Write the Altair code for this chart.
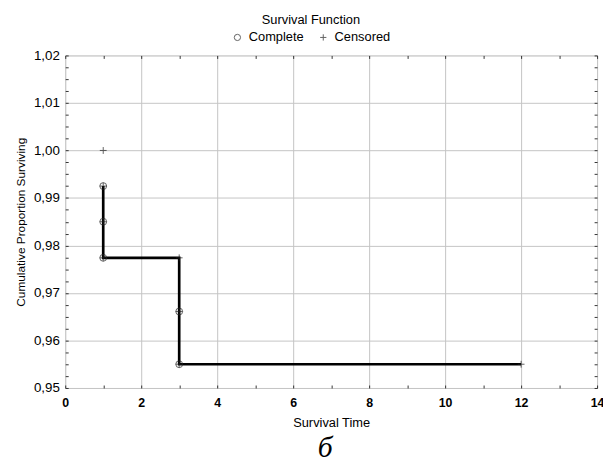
import altair as alt
import pandas as pd

# ---- data ----
complete_time = [1, 1, 1, 3, 3]
complete_surv = [0.9925, 0.9850, 0.9774, 0.9661, 0.9550]
censored_time = [1, 3, 12]
censored_surv = [1.0000, 0.9774, 0.9550]
step_time = [1, 1, 3, 3, 12]
step_surv = [0.9925, 0.9774, 0.9774, 0.9550, 0.9550]

x_major = [0, 2, 4, 6, 8, 10, 12, 14]
y_major = [0.95, 0.96, 0.97, 0.98, 0.99, 1.00, 1.01, 1.02]
x_minor = list(range(0, 15))
y_minor = [round(0.95 + 0.0025 * i, 4) for i in range(29)]

W, H = 539, 337
FONT = "Liberation Sans"
PLUS = "M-1,0L1,0M0,-1L0,1"

step_df = pd.DataFrame({"time": step_time, "surv": step_surv, "order": range(len(step_time))})
pts_df = pd.DataFrame({
    "time": complete_time + censored_time,
    "surv": complete_surv + censored_surv,
    "status": ["Complete"] * len(complete_time) + ["Censored"] * len(censored_time),
})
comp_df = pd.DataFrame({"time": complete_time, "surv": complete_surv})

xs = alt.Scale(domain=[0, 14], nice=False, zero=False)
ys = alt.Scale(domain=[0.95, 1.02], nice=False, zero=False)

label_expr = "replace(format(datum.value, '.2f'), '.', ',')"

line = alt.Chart(step_df).mark_line(color="black", strokeWidth=2.7).encode(
    x=alt.X("time:Q", scale=xs, axis=alt.Axis(
        values=x_major, grid=True, gridColor="#c4c4c4", gridWidth=1,
        ticks=False, tickSize=0, domain=False, labelFont=FONT, labelFontSize=12.5,
        labelFontWeight="bold", labelColor="black", labelPadding=9,
        title="Survival Time", titleFont=FONT, titleFontSize=13,
        titleFontWeight="normal", titleColor="black", titlePadding=8, labelFlush=False)),
    y=alt.Y("surv:Q", scale=ys, axis=alt.Axis(
        values=y_major, grid=True, gridColor="#c4c4c4", gridWidth=1,
        ticks=False, tickSize=0, domain=False, labelFont=FONT, labelFontSize=13.5,
        labelColor="black", labelPadding=6, labelExpr=label_expr,
        title="Cumulative Proportion Surviving", titleFont=FONT, titleFontSize=12,
        titleFontWeight="normal", titleColor="black", titlePadding=6)),
    order="order:O",
)

points = alt.Chart(pts_df).mark_point(filled=False, strokeWidth=1, color="#222").encode(
    x=alt.X("time:Q", scale=xs, axis=None),
    y=alt.Y("surv:Q", scale=ys, axis=None),
    shape=alt.Shape("status:N",
                    scale=alt.Scale(domain=["Complete", "Censored"], range=["circle", PLUS]),
                    legend=alt.Legend(
                        title="Survival Function", orient="none", legendX=168, legendY=-42,
                        direction="horizontal", titleAnchor="middle", titleFont=FONT,
                        titleFontSize=13, titleFontWeight="normal", titleColor="black",
                        titlePadding=4, labelFont=FONT, labelFontSize=13, labelColor="black",
                        symbolStrokeColor="#222", symbolFillColor="transparent",
                        symbolStrokeWidth=1, symbolSize=40, labelOffset=5, columnPadding=13)),
    size=alt.value(48),
)

crosses = alt.Chart(comp_df).mark_point(filled=False, strokeWidth=1, color="#222", shape=PLUS, size=48).encode(
    x=alt.X("time:Q", scale=xs, axis=None),
    y=alt.Y("surv:Q", scale=ys, axis=None),
)


def tick_layer(channel, orient, values):
    ax = alt.Axis(orient=orient, values=values, labels=False, grid=False, domain=False,
                  ticks=True, tickSize=3, tickColor="#333", tickWidth=1, title=None,
                  offset=-(H if channel == "x" else W))
    enc_x = alt.X("time:Q", scale=xs, axis=ax if channel == "x" else None)
    enc_y = alt.Y("surv:Q", scale=ys, axis=ax if channel == "y" else None)
    return alt.Chart(step_df).mark_point(opacity=0).encode(x=enc_x, y=enc_y)


chart = alt.layer(
    line,
    crosses,
    points,
    tick_layer("x", "top", x_minor),
    tick_layer("x", "bottom", x_minor),
    tick_layer("y", "right", y_minor),
    tick_layer("y", "left", y_minor),
).resolve_axis(x="independent", y="independent").properties(
    width=W, height=H,
    autosize=alt.AutoSizeParams(type="none"),
    padding={"left": 58, "top": 45, "right": 6, "bottom": 78},
    title=alt.Title("б", orient="bottom", anchor="middle", font="Liberation Serif",
                    fontStyle="italic", fontWeight="normal", fontSize=30, color="black",
                    offset=3, dx=-6),
).configure_view(stroke="#3a3a3a", strokeWidth=1.5).configure(background="white")

chart.save("out.html", embed_options={"renderer": "svg", "actions": False})
